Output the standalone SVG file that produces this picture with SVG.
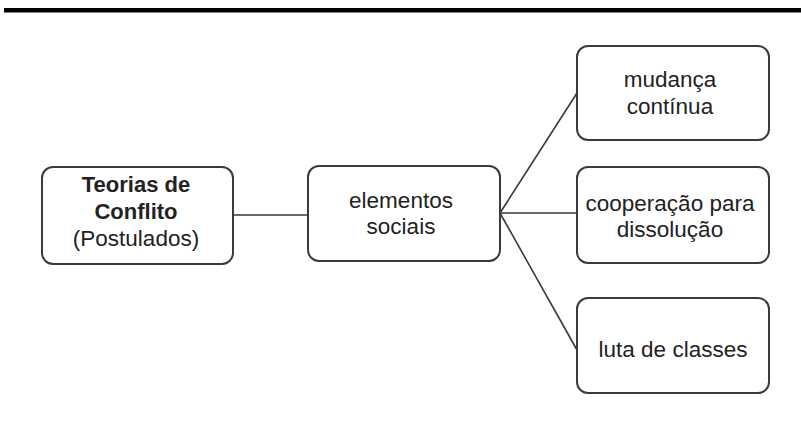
<svg xmlns="http://www.w3.org/2000/svg" width="801" height="430" viewBox="0 0 801 430">
<style>
.box{fill:#fff;stroke:#3a3a3a;stroke-width:2}
.t{font-family:"Liberation Sans",Arial,sans-serif;font-size:22.5px;fill:#222;text-anchor:middle}
.b{font-weight:bold;font-size:22px}
.c{stroke:#3a3a3a;stroke-width:1.6;fill:none}
</style>
<rect x="4" y="8" width="797" height="4.5" fill="#000"/>
<g id="connectors">
<line class="c" x1="233" y1="215" x2="308" y2="215"/>
<line class="c" x1="500" y1="213" x2="577" y2="93"/>
<line class="c" x1="500" y1="213" x2="577" y2="213"/>
<line class="c" x1="500" y1="213" x2="577" y2="350"/>
</g>
<g id="teorias">
<rect class="box" x="42" y="167" width="191" height="97" rx="11"/>
<text class="t b" x="136" y="192">Teorias de</text>
<text class="t b" x="136" y="219">Conflito</text>
<text class="t" x="136" y="246">(Postulados)</text>
</g>
<g id="elementos">
<rect class="box" x="308" y="166" width="192" height="95" rx="11"/>
<text class="t" x="401" y="208">elementos</text>
<text class="t" x="401" y="234">sociais</text>
</g>
<g id="mudanca">
<rect class="box" x="577" y="46" width="192" height="94" rx="11"/>
<text class="t" x="670" y="87">mudança</text>
<text class="t" x="670" y="114">contínua</text>
</g>
<g id="cooperacao">
<rect class="box" x="577" y="167" width="192" height="96" rx="11"/>
<text class="t" x="670" y="211">cooperação para</text>
<text class="t" x="670" y="237">dissolução</text>
</g>
<g id="luta">
<rect class="box" x="577" y="298" width="192" height="95" rx="11"/>
<text class="t" x="673" y="357">luta de classes</text>
</g>
</svg>
